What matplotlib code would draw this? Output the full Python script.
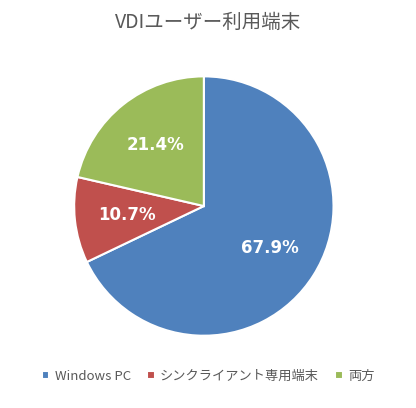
import matplotlib
matplotlib.use("Agg")
import matplotlib.pyplot as plt

plt.rcParams['font.family'] = ['Noto Sans CJK JP', 'DejaVu Sans']

labels = ["Windows PC", "シンクライアント専用端末", "両方"]
values = [67.9, 10.7, 21.4]
colors = ["#4F81BD", "#C0504D", "#9BBB59"]

fig = plt.figure(figsize=(4.16, 4.08), dpi=100)
ax = fig.add_axes([0.175, 0.174, 0.63, 0.642])
wedges, texts, autotexts = ax.pie(values, colors=colors, startangle=90, counterclock=False,
                                  autopct="%.1f%%", pctdistance=0.6,
                                  wedgeprops=dict(edgecolor="white", linewidth=1.5),
                                  textprops=dict(color="white", fontsize=12, fontweight="bold",
                                                 family="DejaVu Sans"))
ax.set_xlim(-1.01, 1.01)
ax.set_ylim(-1.01, 1.01)
ax.set_aspect("equal")
fig.text(0.5, 0.945, "VDIユーザー利用端末", ha="center", va="center", fontsize=14, color="#595959")
fig.legend(wedges, labels, loc="center", bbox_to_anchor=(0.5, 0.078), ncol=3, frameon=False,
           fontsize=9.5, handlelength=0.6, handleheight=0.6, columnspacing=1.2, handletextpad=0.4,
           labelcolor="#595959")
fig.savefig("out.png", dpi=100)
